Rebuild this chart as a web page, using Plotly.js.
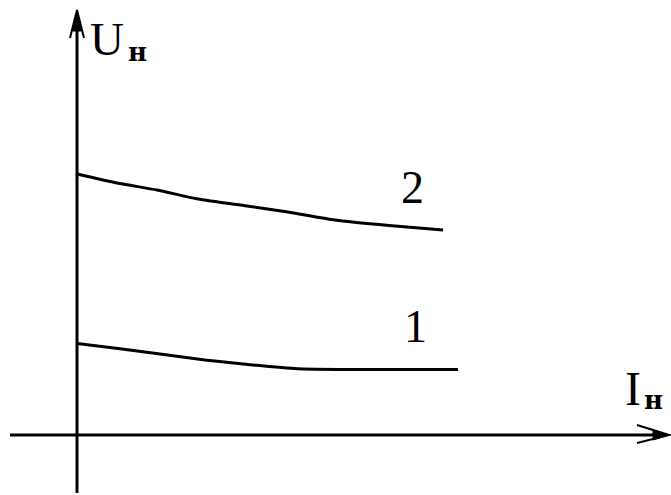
<!DOCTYPE html>
<html>
<head>
<meta charset="utf-8">
<script src="https://cdn.plot.ly/plotly-3.0.1.min.js"></script>
<style>html,body{margin:0;padding:0;background:#fff;}#chart{width:671px;height:495px;}</style>
</head>
<body>
<div id="chart"></div>
<script>
// Curve 2 (upper)
const current2 = [0, 4.0, 8.0, 12.1, 17.0, 21.1, 25.8, 31.2, 36.6];
const voltage2 = [26.1, 25.2, 24.5, 23.6, 22.9, 22.3, 21.5, 20.95, 20.5];
// Curve 1 (lower)
const current1 = [0, 4.1, 8.3, 12.8, 17.1, 22.1, 38.1];
const voltage1 = [9.15, 8.65, 8.1, 7.5, 7.05, 6.62, 6.55];
const curveLabels = ["1", "2"];
const axisLabelU = "U";
const axisLabelI = "I";
const subscript = "н";

const lineStyle = {color: "#000", width: 3};
const traces = [
  {x: current2, y: voltage2, mode: "lines", line: Object.assign({shape: "spline", smoothing: 0.6}, lineStyle), hoverinfo: "skip"},
  {x: current1, y: voltage1, mode: "lines", line: Object.assign({shape: "spline", smoothing: 0.6}, lineStyle), hoverinfo: "skip"}
];

const blk = {color: "#000", width: 3};
const thin = {color: "#000", width: 2};
const shapes = [
  // axes
  {type: "line", x0: 0, y0: -5.8, x1: 0, y1: 41.5, line: blk},
  {type: "line", x0: -6.7, y0: 0, x1: 58.6, y1: 0, line: blk},
  // y arrow
  {type: "path", path: "M -0.7,39.7 L 0,42.5 L 0.7,39.7", line: thin},
  {type: "path", path: "M -0.45,40.4 L 0,42.4 L 0.45,40.4 Z", fillcolor: "#000", line: {color: "#000", width: 1}},
  // x arrow
  {type: "path", path: "M 56.0,1.0 L 59.2,0 L 56.0,-0.8", line: thin},
  {type: "path", path: "M 57.6,0.5 L 59.2,0 L 57.6,-0.5 Z", fillcolor: "#000", line: {color: "#000", width: 1}}
];

const serif = "Liberation Serif, Times New Roman, serif";
const subFont = "DejaVu Serif, serif";
const ann = (x, y, text, fam, size, bold) => ({
  x: x, y: y, xref: "x", yref: "y", text: bold ? "<b>" + text + "</b>" : text,
  showarrow: false, xanchor: "center", yanchor: "middle",
  font: {family: fam, size: size, color: "#000"}
});
const annotations = [
  ann(3.0, 39.6, axisLabelU, serif, 47, false),
  ann(6.0, 38.3, subscript, subFont, 26, true),
  ann(55.55, 4.7, axisLabelI, serif, 48, false),
  ann(57.6, 3.5, subscript, subFont, 26, true),
  ann(33.55, 24.75, curveLabels[1], serif, 46, false),
  ann(33.8, 10.9, curveLabels[0], serif, 46, false)
];

const layout = {
  width: 671, height: 495,
  margin: {l: 0, r: 0, t: 0, b: 0, pad: 0},
  paper_bgcolor: "#fff", plot_bgcolor: "#fff",
  showlegend: false,
  xaxis: {range: [-7.7, 59.4], visible: false, fixedrange: true},
  yaxis: {range: [-6.0, 43.5], visible: false, fixedrange: true},
  shapes: shapes,
  annotations: annotations
};
Plotly.newPlot("chart", traces, layout, {staticPlot: true, displayModeBar: false});
</script>
</body>
</html>
